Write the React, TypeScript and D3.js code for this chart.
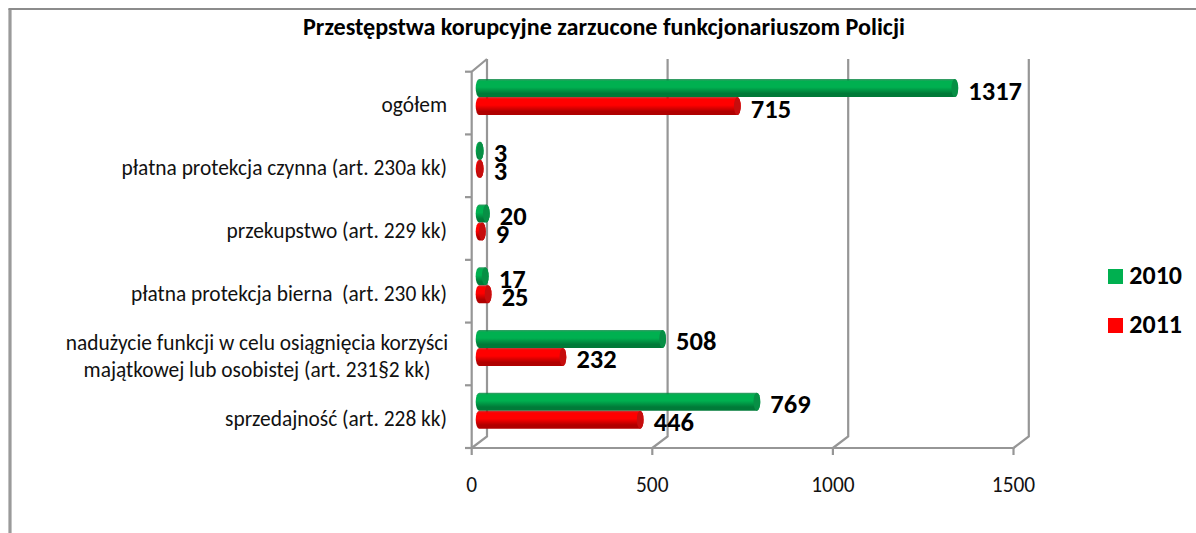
import React from "react";
import * as d3 from "d3";

const categories = [
  ["ogółem"],
  ["płatna protekcja czynna (art. 230a kk)"],
  ["przekupstwo (art. 229 kk)"],
  ["płatna protekcja bierna  (art. 230 kk)"],
  ["nadużycie funkcji w celu osiągnięcia korzyści", "majątkowej lub osobistej (art. 231§2 kk)"],
  ["sprzedajność (art. 228 kk)"],
];
const values2010 = [1317, 3, 20, 17, 508, 769];
const values2011 = [715, 3, 9, 25, 232, 446];
const xTicks = [0, 500, 1000, 1500];
const seriesNames = ["2010", "2011"];
const seriesColors = ["#00b050", "#ff0000"];
const darkColors = ["#007a38", "#b00000"];
const title = "Przestępstwa korupcyjne zarzucone funkcjonariuszom Policji";

const FONT = "Carlito, Lato, 'Open Sans', sans-serif";
const GRID = "#969696";

export default function App() {
  const x = d3.scaleLinear().domain([0, 1500]).range([471.7, 1013.5]);
  const y = d3.scaleBand<number>().domain(d3.range(categories.length)).range([71.7, 448]);
  const dx = 15.3, dy = -11.5;
  const barH = 18, rx = 3.4;
  const bar0 = x(0) + 7.4;
  const scale = (v: number) => x(v) - x(0);

  return (
    <svg width={1196} height={533} style={{ position: "absolute", left: 0, top: 0, background: "#fff" }} fontFamily={FONT}>
      <defs>
        {seriesNames.map((s, i) => (
          <linearGradient key={s} id={`g${i}`} x1="0" x2="0" y1="0" y2="1">
            <stop offset="0" stopColor={darkColors[i]} stopOpacity={0.75} />
            <stop offset="0.12" stopColor={seriesColors[i]} />
            <stop offset="0.45" stopColor={seriesColors[i]} />
            <stop offset="0.8" stopColor={darkColors[i]} />
            <stop offset="1" stopColor={darkColors[i]} />
          </linearGradient>
        ))}
      </defs>
      <path d="M10,533 V9" fill="none" stroke="#9a9a9a" strokeWidth={3.2} />
      <path d="M8.4,9 H1196" fill="none" stroke="#8c8c8c" strokeWidth={2} />
      <text x={604} y={35} textAnchor="middle" fontSize={24} fontWeight={700} fill="#000" textLength={602} lengthAdjust="spacingAndGlyphs">{title}</text>

      <g fill="none" stroke={GRID} strokeWidth={2.2}>
        {xTicks.map((t) => (
          <path key={t} d={`M${x(t)},448 L${x(t) + dx},${448 + dy} V59`} />
        ))}
        <path d={`M${x(0) + dx},59 L${x(0)},71.7 V448 H${x(1500)}`} />
        {d3.range(categories.length + 1).map((i) => {
          const yy = 71.7 + (i * (448 - 71.7)) / categories.length;
          return <path key={i} d={`M465,${yy} H${x(0)}`} />;
        })}
        {xTicks.map((t) => (
          <path key={t} d={`M${x(t)},448 V455`} />
        ))}
      </g>

      {categories.map((c, i) => {
        const cy = y(i)! + y.bandwidth() / 2 - 6;
        return [values2010[i], values2011[i]].map((v, s) => {
          const top = cy - barH + s * barH;
          const end = bar0 + scale(v);
          const my = top + barH / 2;
          return (
            <g key={s}>
              <path
                d={`M${bar0},${top} H${end} A${rx},${barH / 2} 0 0 1 ${end},${top + barH} H${bar0} A${rx},${barH / 2} 0 0 1 ${bar0},${top} Z`}
                fill={`url(#g${s})`}
              />
              <ellipse cx={end} cy={my} rx={rx} ry={barH / 2} fill={s === 0 ? "#078f45" : "#c60d0d"} />
            </g>
          );
        });
      })}

      {categories.map((c, i) => {
        const cy = y(i)! + y.bandwidth() / 2 - 6;
        return [values2010[i], values2011[i]].map((v, s) => (
          <text key={s} x={bar0 + scale(v) + 13.5} y={cy + (s === 0 ? 2.5 : 20.5)} fontSize={26.5} fontWeight={700} fill="#000">
            {v}
          </text>
        ));
      })}

      {categories.map((c, i) => {
        const cy = y(i)! + y.bandwidth() / 2;
        return c.map((line, j) => (
          <text key={j} x={c.length > 1 ? 257 : 447} y={cy + 9.4 + (j - (c.length - 1) / 2) * 27} textAnchor={c.length > 1 ? "middle" : "end"} fontSize={21.4} fill="#111" style={{ whiteSpace: "pre" }}>
            {line}
          </text>
        ));
      })}

      {xTicks.map((t) => (
        <text key={t} x={x(t)} y={492} textAnchor="middle" fontSize={21.4} fill="#111">{t}</text>
      ))}

      {seriesNames.map((s, i) => (
        <g key={s}>
          <rect x={1108} y={269 + i * 49} width={15} height={15} fill={seriesColors[i]} />
          <text x={1129.3} y={283.7 + i * 49} fontSize={26} fontWeight={700} fill="#000">{s}</text>
        </g>
      ))}
    </svg>
  );
}
